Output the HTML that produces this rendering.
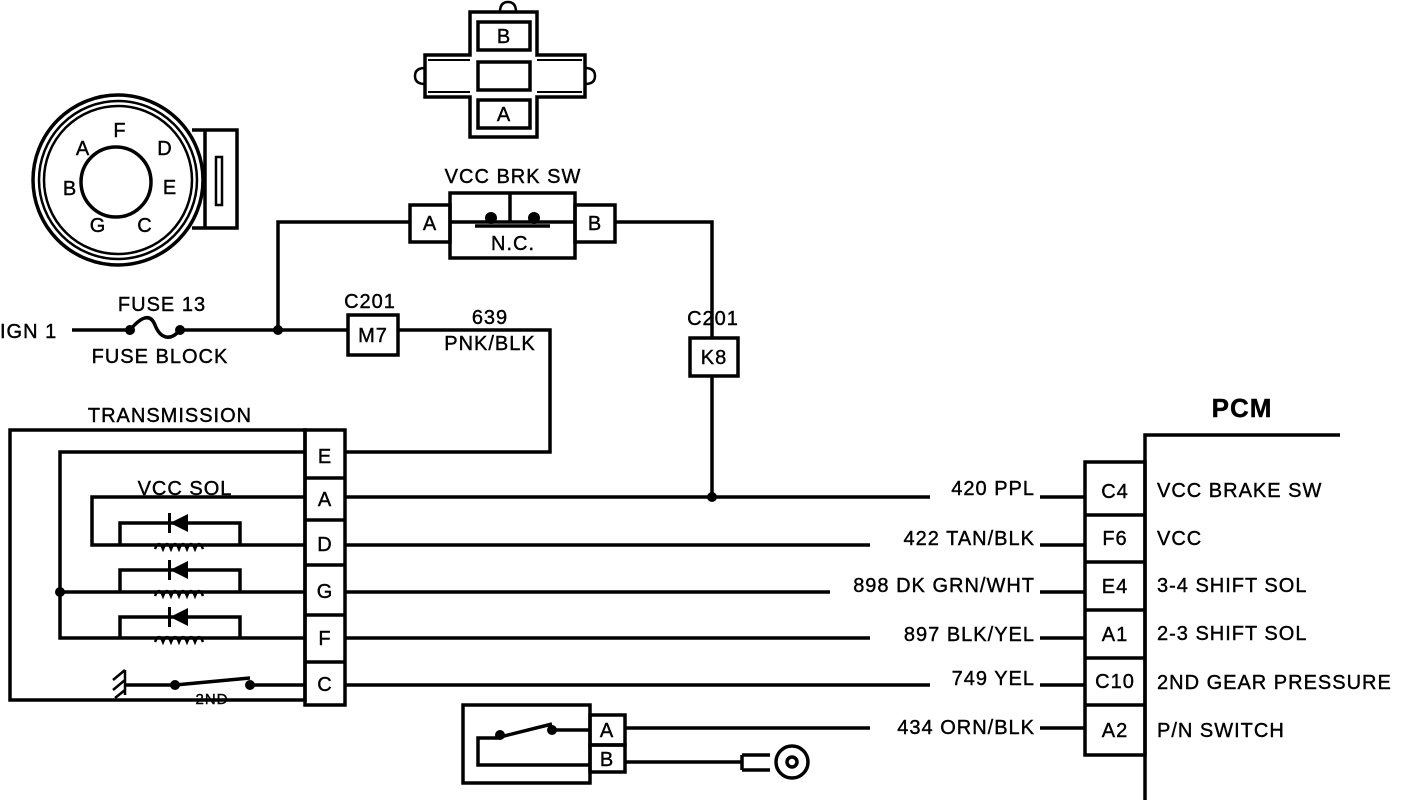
<!DOCTYPE html>
<html><head><meta charset="utf-8"><style>
html,body{margin:0;padding:0;background:#fff;}
svg{display:block;}
text{font-family:"Liberation Sans",sans-serif;font-size:20px;fill:#000;letter-spacing:1px;stroke:#000;stroke-width:0.4px;}
</style></head><body>
<svg width="1408" height="804" viewBox="0 0 1408 804" xmlns="http://www.w3.org/2000/svg">
<g fill="none" stroke="#000" stroke-width="3.5">
<!-- ignition switch -->
<circle cx="118" cy="180" r="85"/>
<circle cx="118" cy="180" r="79" stroke-width="2.5"/>
<circle cx="118" cy="180" r="74" stroke-width="2.5"/>
<circle cx="116" cy="182" r="35"/>
<path d="M192 130 H237 V228 H192"/>
<line x1="205" y1="130" x2="205" y2="228"/>
<rect x="216" y="157" width="6" height="48" stroke-width="2.5"/>
<!-- top connector -->
<path d="M470 137 V97 H425 V55 H470 V12 H537 V55 H585 V97 H537 V137 Z"/>
<path d="M500 12 q0 -10 8 -10 q8 0 8 10" stroke-width="2.5"/>
<path d="M425 68 q-10 0 -10 8 q0 8 10 8" stroke-width="2.5"/>
<path d="M585 68 q10 0 10 8 q0 8 -10 8" stroke-width="2.5"/>
<rect x="478" y="22" width="52" height="28"/>
<rect x="478" y="62" width="52" height="28"/>
<rect x="478" y="100" width="52" height="28"/>
<line x1="428" y1="60" x2="470" y2="60" stroke-width="2"/><line x1="428" y1="92" x2="470" y2="92" stroke-width="2"/>
<line x1="537" y1="60" x2="582" y2="60" stroke-width="2"/><line x1="537" y1="92" x2="582" y2="92" stroke-width="2"/>
<!-- VCC BRK SW -->
<rect x="410" y="205" width="40" height="37"/>
<rect x="450" y="193" width="125" height="65"/>
<line x1="450" y1="222" x2="575" y2="222"/>
<line x1="510" y1="193" x2="510" y2="222"/>
<line x1="475" y1="226" x2="550" y2="226"/>
<rect x="575" y="205" width="40" height="37"/>
<path d="M410 222 H278 V330"/>
<path d="M615 222 H712 V338"/>
<rect x="690" y="338" width="48" height="38"/>
<path d="M712 376 V497"/>
<!-- IGN line -->
<path d="M72 330 H130"/>
<path d="M130 330 C140 318,150 312,155 325 C160 338,170 342,180 330"/>
<path d="M180 330 H348"/>
<rect x="348" y="315" width="50" height="40"/>
<path d="M398 330 H550 V452 H345"/>
<!-- transmission -->
<rect x="10" y="430" width="295" height="270"/>
<rect x="305" y="430" width="40" height="275"/>
<path d="M305 478 H345 M305 520 H345 M305 565 H345 M305 615 H345 M305 662 H345" />
<path d="M305 452 H60 V638 H305"/>
<path d="M60 592 H305"/>
<path d="M305 497 H92 V545 H305"/>
<path d="M120 545 V523 H240 V545"/>
<path d="M120 592 V570 H240 V592"/>
<path d="M120 638 V617 H240 V638"/>
<path d="M345 497 H930 M1040 497 H1085"/>
<path d="M345 545 H870 M1040 545 H1085"/>
<path d="M345 592 H830 M1040 592 H1085"/>
<path d="M345 638 H870 M1040 638 H1085"/>
<path d="M345 685 H930 M1040 685 H1085"/>
<!-- 2nd switch -->
<path d="M125 685 H175 L250 678 M250 685 H305"/>
<path d="M125 670 V695 M125 670 L113 680 M125 680 L113 690 M125 690 L115 698" stroke-width="2.5"/>
<!-- PN switch -->
<rect x="463" y="705" width="127" height="78"/>
<rect x="590" y="715" width="35" height="30"/>
<rect x="590" y="745" width="35" height="27"/>
<path d="M590 730 H552 M552 724 L500 737 M500 738 H478 V765 H590"/>
<path d="M625 728 H870 M1040 728 H1085"/>
<path d="M625 762 H742"/>
<path d="M742 755 H770 M742 770 H770 M742 755 V770"/>
<circle cx="792" cy="762" r="16"/>
<circle cx="792" cy="762" r="5"/>
<!-- PCM -->
<rect x="1085" y="462" width="60" height="293"/>
<path d="M1085 515 H1145 M1085 562 H1145 M1085 610 H1145 M1085 658 H1145 M1085 705 H1145"/>
<path d="M1145 800 V435 H1340"/>
</g>
<g fill="#000">
<circle cx="278" cy="330" r="5"/><circle cx="712" cy="497" r="5"/><circle cx="60" cy="592" r="5"/>
<circle cx="130" cy="330" r="5"/><circle cx="180" cy="330" r="5"/>
<circle cx="491" cy="218" r="6"/><circle cx="534" cy="218" r="6"/>
<circle cx="175" cy="685" r="5"/><circle cx="250" cy="685" r="5"/>
<circle cx="500" cy="735" r="5"/><circle cx="552" cy="730" r="5"/>
<!-- diodes -->
<path d="M170 523 L188 514 V532 Z"/><rect x="168" y="513" width="3" height="20"/>
<path d="M170 570 L188 561 V579 Z"/><rect x="168" y="560" width="3" height="20"/>
<path d="M170 617 L188 608 V626 Z"/><rect x="168" y="607" width="3" height="20"/>
</g>
<g fill="none" stroke="#000" stroke-width="2.5">
<path d="M155 549 q4 -10 8 0 q4 -10 8 0 q4 -10 8 0 q4 -10 8 0 q4 -10 8 0 q4 -10 8 0"/>
<path d="M155 596 q4 -10 8 0 q4 -10 8 0 q4 -10 8 0 q4 -10 8 0 q4 -10 8 0 q4 -10 8 0"/>
<path d="M155 642 q4 -10 8 0 q4 -10 8 0 q4 -10 8 0 q4 -10 8 0 q4 -10 8 0 q4 -10 8 0"/>
</g>
<g>
<text x="120" y="137" text-anchor="middle">F</text>
<text x="83" y="155" text-anchor="middle">A</text>
<text x="165" y="155" text-anchor="middle">D</text>
<text x="70" y="195" text-anchor="middle">B</text>
<text x="170" y="194" text-anchor="middle">E</text>
<text x="98" y="232" text-anchor="middle">G</text>
<text x="145" y="232" text-anchor="middle">C</text>
<text x="504" y="43" text-anchor="middle">B</text>
<text x="504" y="121" text-anchor="middle">A</text>
<text x="513" y="183" text-anchor="middle">VCC BRK SW</text>
<text x="430" y="230" text-anchor="middle">A</text>
<text x="595" y="230" text-anchor="middle">B</text>
<text x="513" y="250" text-anchor="middle">N.C.</text>
<text x="162" y="311" text-anchor="middle">FUSE 13</text>
<text x="160" y="363" text-anchor="middle">FUSE BLOCK</text>
<text x="0" y="338">IGN 1</text>
<text x="370" y="308" text-anchor="middle">C201</text>
<text x="373" y="342" text-anchor="middle">M7</text>
<text x="490" y="324" text-anchor="middle">639</text>
<text x="490" y="350" text-anchor="middle">PNK/BLK</text>
<text x="713" y="325" text-anchor="middle">C201</text>
<text x="714" y="364" text-anchor="middle">K8</text>
<text x="170" y="422" text-anchor="middle">TRANSMISSION</text>
<text x="185" y="495" text-anchor="middle">VCC SOL</text>
<text x="325" y="463" text-anchor="middle">E</text>
<text x="325" y="506" text-anchor="middle">A</text>
<text x="325" y="551" text-anchor="middle">D</text>
<text x="325" y="598" text-anchor="middle">G</text>
<text x="325" y="645" text-anchor="middle">F</text>
<text x="325" y="691" text-anchor="middle">C</text>
<text x="212" y="704" text-anchor="middle" style="font-size:15px">2ND</text>
<text x="607" y="737" text-anchor="middle">A</text>
<text x="607" y="766" text-anchor="middle">B</text>
<text x="1035" y="495" text-anchor="end">420 PPL</text>
<text x="1035" y="545" text-anchor="end">422 TAN/BLK</text>
<text x="1035" y="592" text-anchor="end">898 DK GRN/WHT</text>
<text x="1035" y="641" text-anchor="end">897 BLK/YEL</text>
<text x="1035" y="685" text-anchor="end">749 YEL</text>
<text x="1035" y="734" text-anchor="end">434 ORN/BLK</text>
<text x="1242" y="417" text-anchor="middle" style="font-size:26px;font-weight:bold">PCM</text>
<text x="1115" y="498" text-anchor="middle">C4</text>
<text x="1115" y="545" text-anchor="middle">F6</text>
<text x="1115" y="593" text-anchor="middle">E4</text>
<text x="1115" y="641" text-anchor="middle">A1</text>
<text x="1115" y="688" text-anchor="middle">C10</text>
<text x="1115" y="737" text-anchor="middle">A2</text>
<text x="1157" y="497">VCC BRAKE SW</text>
<text x="1157" y="545">VCC</text>
<text x="1157" y="592">3-4 SHIFT SOL</text>
<text x="1157" y="640">2-3 SHIFT SOL</text>
<text x="1157" y="689">2ND GEAR PRESSURE</text>
<text x="1157" y="737">P/N SWITCH</text>
</g>
</svg>
</body></html>
